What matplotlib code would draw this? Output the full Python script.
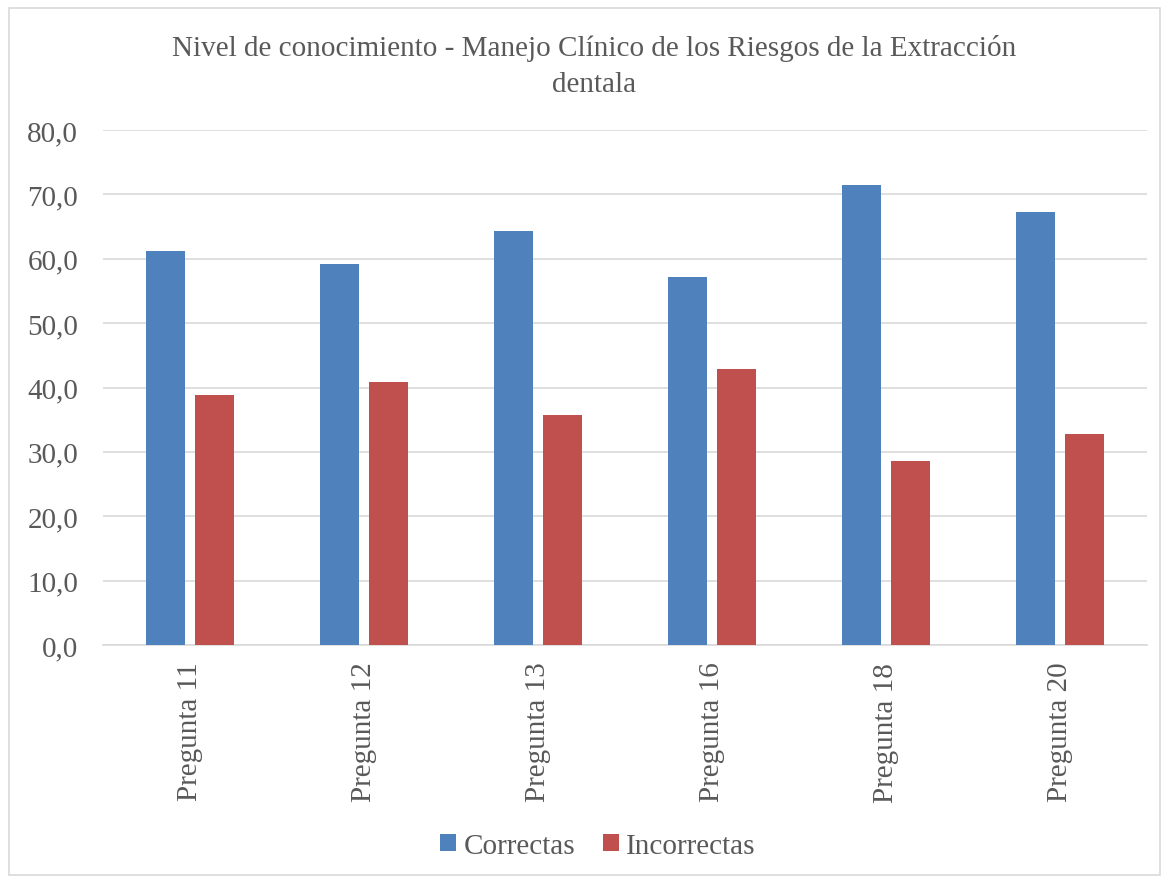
import numpy as np
import matplotlib
matplotlib.use("Agg")
import matplotlib.pyplot as plt
from matplotlib.patches import Rectangle

plt.rcParams['font.family'] = ['Liberation Serif', 'DejaVu Serif']

preguntas = ["Pregunta 11", "Pregunta 12", "Pregunta 13", "Pregunta 16", "Pregunta 18", "Pregunta 20"]
correctas = [61.2, 59.2, 64.3, 57.1, 71.4, 67.3]
incorrectas = [38.8, 40.8, 35.7, 42.9, 28.6, 32.7]
yticks = [0, 10, 20, 30, 40, 50, 60, 70, 80]

text_col = "#595959"
grid_col = "#d9d9d9"
fs = 21

fig = plt.figure(figsize=(11.63, 8.79), dpi=100)
ax = fig.add_axes([103/1163, 1 - 646/879, (1147 - 103)/1163, (646 - 131)/879])

x = np.arange(len(preguntas))
w = 0.224
off = 0.141
ax.bar(x - off, correctas, w, color="#4F81BD", label="Correctas", zorder=3)
ax.bar(x + off, incorrectas, w, color="#C0504D", label="Incorrectas", zorder=3)

ax.set_xlim(-0.5, len(preguntas) - 0.5)
ax.set_ylim(0, 80)
ax.set_yticks(yticks)
ax.set_yticklabels([f"{v:.1f}".replace(".", ",") for v in yticks])
ax.set_xticks(x)
ax.set_xticklabels(preguntas, rotation=90)
ax.tick_params(axis="y", length=0, pad=18, labelsize=fs, labelcolor=text_col)
ax.tick_params(axis="x", length=0, pad=12, labelsize=fs, labelcolor=text_col)

ax.grid(axis="y", color=grid_col, linewidth=1.2, zorder=0)
for s in ["top", "right", "left"]:
    ax.spines[s].set_visible(False)
ax.spines["bottom"].set_color(grid_col)
ax.spines["bottom"].set_linewidth(1.2)

fig.text(594/1163, 1 - 67/879,
         "Nivel de conocimiento - Manejo Clínico de los Riesgos de la Extracción\ndentala",
         ha="center", va="center", fontsize=fs, color=text_col, linespacing=1.5)

leg = fig.legend(loc="center", bbox_to_anchor=(598/1163, 1 - 847/879), ncol=2,
                 frameon=False, fontsize=fs, handlelength=0.55, handleheight=0.55,
                 handletextpad=0.25, columnspacing=0.95)
for t in leg.get_texts():
    t.set_color(text_col)

# outer chart border
fig.patches.append(Rectangle((9/1163, 1 - 876/879), 1151/1163, 867/879,
                             transform=fig.transFigure, fill=False,
                             edgecolor=grid_col, linewidth=1.2))

fig.savefig("out.png", dpi=100, facecolor="white")
